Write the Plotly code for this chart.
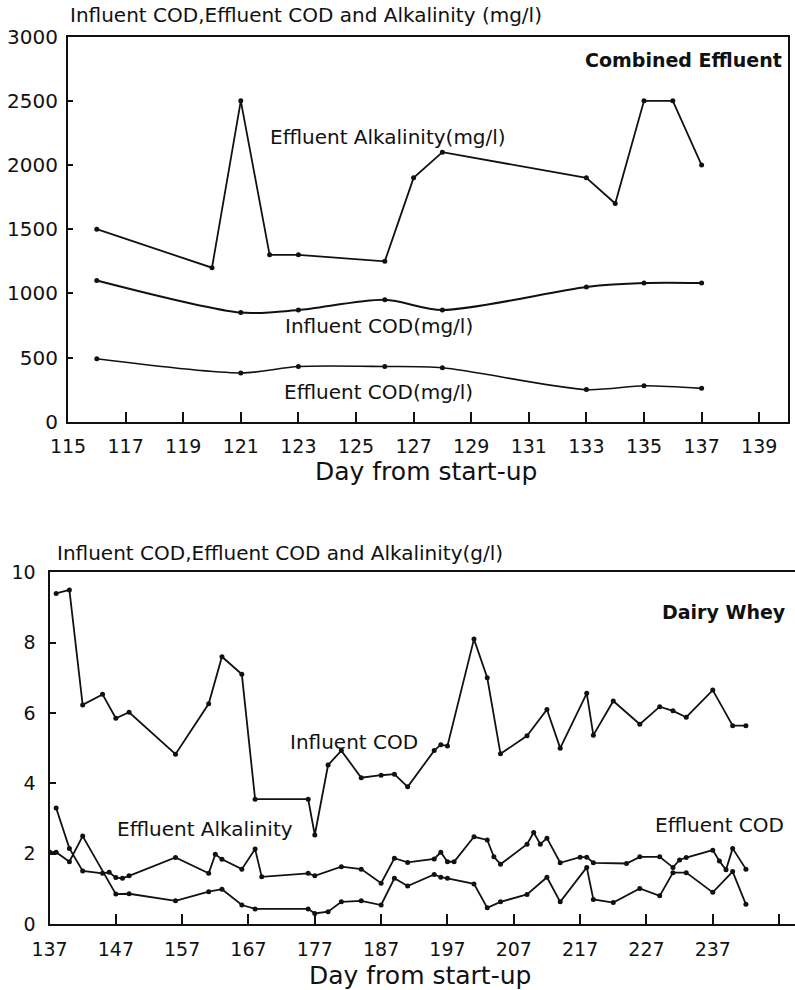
import plotly.graph_objects as go

# ---------------- Top chart: Combined Effluent ----------------
top_alk_days = [116, 120, 121, 122, 123, 126, 127, 128, 133, 134, 135, 136, 137]
top_alk_vals = [1500, 1200, 2500, 1300, 1300, 1250, 1900, 2100, 1900, 1700, 2500, 2500, 2000]

top_inf_days = [116, 121, 123, 126, 128, 133, 135, 137]
top_inf_vals = [1100, 850, 870, 950, 870, 1050, 1080, 1080]

top_eff_days = [116, 121, 123, 126, 128, 133, 135, 137]
top_eff_vals = [490, 380, 430, 430, 420, 250, 280, 260]

top_xticks = list(range(115, 141, 2))
top_yticks = [0, 500, 1000, 1500, 2000, 2500, 3000]

# ---------------- Bottom chart: Dairy Whey ----------------
bot_inf_days = [138, 140, 142, 145, 147, 149, 156, 161, 163, 166, 168, 176, 177, 179, 181,
                184, 187, 189, 191, 195, 196, 197, 201, 203, 205, 209, 212, 214, 218, 219,
                222, 226, 229, 231, 233, 237, 240, 242]
bot_inf_vals = [9.4, 9.5, 6.23, 6.53, 5.85, 6.02, 4.83, 6.26, 7.6, 7.1, 3.55, 3.55, 2.53, 4.52, 4.93,
                4.16, 4.23, 4.26, 3.9, 4.93, 5.1, 5.06, 8.1, 7.0, 4.84, 5.35, 6.1, 5.0, 6.56, 5.37,
                6.34, 5.68, 6.18, 6.06, 5.88, 6.65, 5.64, 5.64]

bot_alk_days = [138, 140, 142, 145, 146, 147, 148, 149, 156, 161, 162, 163, 166, 168, 169,
                176, 177, 181, 184, 187, 189, 191, 195, 196, 197, 198, 201, 203, 204, 205,
                209, 210, 211, 212, 214, 217, 218, 219, 224, 226, 229, 231, 232, 233, 237,
                238, 239, 240, 242]
bot_alk_vals = [3.3, 2.15, 1.51, 1.44, 1.47, 1.32, 1.30, 1.37, 1.89, 1.44, 1.98, 1.84, 1.56, 2.13, 1.34,
                1.44, 1.37, 1.63, 1.56, 1.16, 1.87, 1.75, 1.85, 2.04, 1.77, 1.77, 2.48, 2.39, 1.91, 1.7,
                2.27, 2.6, 2.27, 2.44, 1.74, 1.9, 1.9, 1.74, 1.72, 1.91, 1.91, 1.61, 1.82, 1.89, 2.1,
                1.79, 1.54, 2.15, 1.56]

bot_eff_days = [137, 138, 140, 142, 147, 149, 156, 161, 163, 166, 168, 176, 177, 179, 181,
                184, 187, 189, 191, 195, 196, 197, 201, 203, 205, 209, 212, 214, 218, 219,
                222, 226, 229, 231, 233, 237, 240, 242]
bot_eff_vals = [2.05, 2.04, 1.77, 2.5, 0.85, 0.86, 0.66, 0.92, 0.99, 0.54, 0.43, 0.43, 0.3, 0.35, 0.63,
                0.66, 0.54, 1.3, 1.08, 1.41, 1.33, 1.3, 1.14, 0.46, 0.63, 0.84, 1.33, 0.63, 1.61, 0.7,
                0.61, 1.01, 0.8, 1.46, 1.46, 0.9, 1.49, 0.56]

bot_xticks = list(range(137, 248, 10))
bot_yticks = [0, 2, 4, 6, 8, 10]

FONT = "DejaVu Sans"
BLACK = "#111111"

fig = go.Figure()

line_style = dict(color=BLACK, width=1.8)
marker_style = dict(color=BLACK, size=5, symbol="circle")

fig.add_trace(go.Scatter(x=top_alk_days, y=top_alk_vals, mode="lines+markers",
                         line=line_style, marker=marker_style, xaxis="x", yaxis="y",
                         name="Effluent Alkalinity"))
fig.add_trace(go.Scatter(x=top_inf_days, y=top_inf_vals, mode="lines+markers",
                         line=dict(color=BLACK, width=2, shape="spline", smoothing=0.8),
                         marker=marker_style, xaxis="x", yaxis="y", name="Influent COD"))
fig.add_trace(go.Scatter(x=top_eff_days, y=top_eff_vals, mode="lines+markers",
                         line=dict(color=BLACK, width=1.6, shape="spline", smoothing=0.8),
                         marker=marker_style, xaxis="x", yaxis="y", name="Effluent COD"))

fig.add_trace(go.Scatter(x=bot_inf_days, y=bot_inf_vals, mode="lines+markers",
                         line=line_style, marker=marker_style, xaxis="x2", yaxis="y2",
                         name="Influent COD (whey)"))
fig.add_trace(go.Scatter(x=bot_alk_days, y=bot_alk_vals, mode="lines+markers",
                         line=line_style, marker=marker_style, xaxis="x2", yaxis="y2",
                         name="Effluent Alkalinity (whey)"))
fig.add_trace(go.Scatter(x=bot_eff_days, y=bot_eff_vals, mode="lines+markers",
                         line=line_style, marker=marker_style, xaxis="x2", yaxis="y2",
                         name="Effluent COD (whey)"))

W, H = 795, 990
tickfont = dict(family=FONT, size=19, color=BLACK)

fig.update_layout(
    width=W, height=H,
    margin=dict(l=0, r=0, t=0, b=0, autoexpand=False),
    paper_bgcolor="white", plot_bgcolor="white",
    showlegend=False,
    xaxis=dict(domain=[68 / W, 788 / W], range=[115, 140], anchor="y", automargin=False,
               tickvals=top_xticks, ticks="inside", ticklen=10, tickwidth=2,
               tickcolor=BLACK, showline=True, linecolor=BLACK, linewidth=2,
               mirror=True, showgrid=False, zeroline=False, tickfont=tickfont,
               ticklabelstandoff=6),
    yaxis=dict(domain=[1 - 421.7 / H, 1 - 36.7 / H], range=[0, 3000], anchor="x",
               automargin=False,
               tickvals=top_yticks, ticks="inside", ticklen=5, tickwidth=1.5,
               tickcolor=BLACK, showline=True, linecolor=BLACK, linewidth=2,
               mirror=True, showgrid=False, zeroline=False,
               tickfont=dict(family=FONT, size=20, color=BLACK), ticklabelstandoff=4),
    xaxis2=dict(domain=[49.5 / W, 1.0], range=[137, 249.4], anchor="y2", automargin=False,
                tickvals=bot_xticks, ticks="inside", ticklen=10, tickwidth=2,
                tickcolor=BLACK, showline=True, linecolor=BLACK, linewidth=2,
                mirror=True, showgrid=False, zeroline=False, tickfont=tickfont,
                ticklabelstandoff=7),
    yaxis2=dict(domain=[1 - 924 / H, 1 - 572.3 / H], range=[0, 10], anchor="x2",
                automargin=False,
                tickvals=bot_yticks, ticks="inside", ticklen=6, tickwidth=1.5,
                tickcolor=BLACK, showline=True, linecolor=BLACK, linewidth=2,
                mirror=False, showgrid=False, zeroline=False,
                tickfont=tickfont, ticklabelstandoff=8),
)

lab = dict(family=FONT, size=20, color=BLACK)
boldfont = dict(family=FONT, size=19, color=BLACK)
titlefont = dict(family=FONT, size=25, color=BLACK)
annos = [
    # top chart
    dict(text="Influent COD,Effluent COD and Alkalinity (mg/l)", xref="paper", yref="paper",
         x=68 / W, y=1 - 15 / H, xanchor="left", yanchor="middle", font=lab),
    dict(text="<b>Combined Effluent</b>", xref="x domain", yref="y domain", x=0.994, y=0.939,
         xanchor="right", yanchor="middle", font=boldfont),
    dict(text="Effluent Alkalinity(mg/l)", xref="x", yref="y", x=121.95, y=2220,
         xanchor="left", yanchor="middle", font=lab),
    dict(text="Influent COD(mg/l)", xref="x", yref="y", x=122.48, y=746,
         xanchor="left", yanchor="middle", font=lab),
    dict(text="Effluent COD(mg/l)", xref="x", yref="y", x=122.42, y=229,
         xanchor="left", yanchor="middle", font=lab),
    dict(text="Day from start-up", xref="paper", yref="paper", x=426 / W, y=1 - 455 / H,
         xanchor="center", yanchor="top", font=titlefont),
    # bottom chart
    dict(text="Influent COD,Effluent COD and Alkalinity(g/l)", xref="paper", yref="paper",
         x=55 / W, y=1 - 553 / H, xanchor="left", yanchor="middle", font=lab),
    dict(text="<b>Dairy Whey</b>", xref="x2 domain", yref="y2 domain", x=0.9906, y=0.888,
         xanchor="right", yanchor="middle", font=boldfont),
    dict(text="Influent COD", xref="x2", yref="y2", x=173.0, y=5.18,
         xanchor="left", yanchor="middle", font=lab),
    dict(text="Effluent Alkalinity", xref="x2", yref="y2", x=146.9, y=2.69,
         xanchor="left", yanchor="middle", font=lab),
    dict(text="Effluent COD", xref="x2", yref="y2", x=228.0, y=2.81,
         xanchor="left", yanchor="middle", font=lab),
    dict(text="Day from start-up", xref="paper", yref="paper", x=420 / W, y=1 - 959 / H,
         xanchor="center", yanchor="top", font=titlefont),
]
for a in annos:
    a["showarrow"] = False
fig.update_layout(annotations=annos)

fig.write_html("out.html")
